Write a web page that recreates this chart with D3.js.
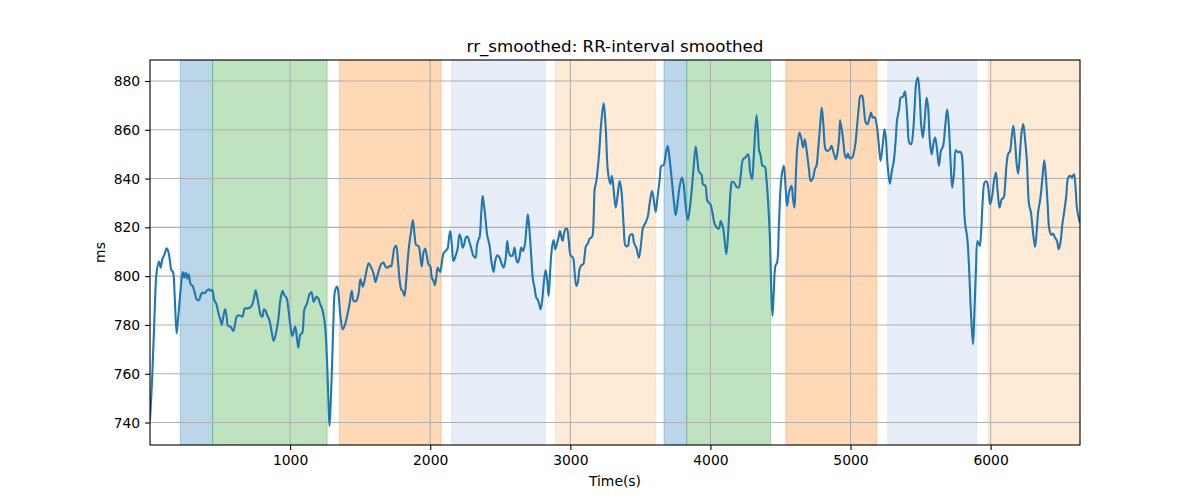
<!DOCTYPE html>
<html>
<head>
<meta charset="utf-8">
<script src="https://cdn.jsdelivr.net/npm/d3@7"></script>
<style>
  html, body { margin: 0; padding: 0; background: #fff; }
  svg { display: block; font-family: "DejaVu Sans", sans-serif; }
</style>
</head>
<body>
<svg id="chart" width="1200" height="500"></svg>
<script>
// ---- data ----
const times = [0,16,33,47,64,76,88,104,119,131,143,152,164,176,190,202,219,233,245,255,266,276,290,304,319,333,350,362,374,390,404,421,433,445,457,474,488,500,512,524,536,547,557,576,595,607,619,636,659,676,695,714,731,743,754,766,779,790,802,814,826,836,852,869,883,900,916,931,947,959,974,988,1002,1016,1036,1050,1059,1074,1086,1102,1121,1138,1152,1169,1186,1202,1214,1226,1240,1252,1264,1274,1281,1290,1300,1309,1321,1336,1347,1359,1376,1393,1407,1424,1440,1454,1471,1488,1502,1519,1531,1545,1561,1579,1597,1609,1626,1650,1666,1681,1697,1709,1721,1733,1745,1757,1769,1781,1793,1804,1816,1829,1840,1852,1864,1876,1888,1900,1916,1929,1940,1952,1964,1976,1988,2000,2011,2024,2033,2043,2054,2071,2083,2095,2109,2124,2133,2143,2154,2166,2181,2195,2209,2221,2231,2243,2254,2266,2281,2295,2309,2324,2333,2345,2352,2364,2374,2383,2395,2407,2424,2438,2452,2464,2479,2495,2511,2524,2538,2550,2561,2574,2588,2602,2614,2626,2638,2650,2661,2674,2686,2697,2709,2721,2733,2745,2757,2769,2781,2788,2800,2811,2824,2836,2845,2857,2869,2881,2893,2904,2916,2926,2936,2945,2954,2964,2976,2988,3002,3019,3031,3043,3054,3066,3079,3093,3102,3112,3126,3138,3150,3159,3167,3174,3186,3204,3221,3238,3252,3269,3286,3297,3309,3324,3340,3352,3364,3381,3395,3411,3424,3443,3454,3471,3490,3507,3519,3538,3554,3567,3583,3597,3609,3621,3638,3650,3666,3679,3695,3709,3726,3740,3752,3766,3781,3797,3809,3821,3838,3852,3867,3881,3895,3907,3919,3936,3947,3964,3979,4000,4014,4031,4047,4061,4074,4090,4102,4114,4131,4145,4154,4169,4186,4202,4216,4233,4250,4269,4283,4297,4311,4329,4340,4347,4359,4372,4388,4400,4412,4424,4436,4443,4452,4464,4476,4488,4500,4512,4524,4536,4547,4561,4579,4590,4600,4609,4621,4636,4650,4662,4674,4686,4702,4716,4733,4745,4757,4769,4783,4795,4807,4822,4836,4852,4864,4879,4895,4907,4919,4926,4947,4959,4971,4981,4995,5012,5024,5036,5047,5059,5071,5083,5095,5109,5122,5133,5147,5157,5172,5186,5200,5214,5229,5243,5252,5264,5281,5295,5309,5322,5333,5347,5359,5374,5388,5395,5407,5419,5433,5447,5459,5469,5481,5493,5504,5516,5529,5543,5554,5566,5579,5593,5604,5616,5631,5645,5661,5676,5690,5702,5714,5726,5740,5752,5769,5781,5793,5804,5816,5833,5845,5859,5874,5883,5895,5907,5922,5931,5945,5957,5971,5983,5997,6011,6026,6038,6050,6064,6079,6093,6102,6114,6126,6138,6150,6162,6174,6186,6197,6209,6221,6233,6247,6259,6274,6288,6300,6317,6329,6340,6354,6369,6383,6395,6407,6419,6433,6445,6459,6474,6486,6500,6512,6526,6540,6554,6569,6581,6595,6607,6616,6631,6638];
const rrValues = [741.0,759.0,785.0,801.5,806.0,803.5,807.0,809.0,811.4,810.0,806.0,802.5,801.7,792.0,776.6,783.7,794.6,801.7,799.4,801.5,799.0,800.8,796.7,796.0,793.3,790.5,790.2,792.2,793.3,793.0,794.0,794.6,794.0,794.3,790.5,788.5,785.0,782.6,780.0,783.7,786.4,783.4,779.6,779.2,777.5,780.3,783.4,784.0,783.4,786.7,786.8,787.1,788.5,791.2,794.2,791.2,787.1,784.0,783.4,786.4,785.7,784.0,782.0,776.9,773.4,776.9,782.3,790.5,794.0,792.2,791.2,786.4,779.6,775.5,779.3,774.0,770.7,776.2,776.6,786.4,788.9,792.6,793.5,789.4,791.5,790.8,788.5,787.1,783.7,778.2,764.6,748.2,738.6,748.2,764.6,781.0,794.0,795.7,791.9,783.7,778.2,780.3,783.7,788.5,794.0,789.8,789.8,792.6,798.7,795.7,798.0,802.1,805.3,803.5,800.8,797.6,800.8,804.9,805.6,803.9,803.5,804.2,804.0,807.6,811.7,812.4,806.9,798.7,794.6,793.9,791.9,798.7,806.9,813.8,818.5,823.0,817.2,812.7,812.4,808.3,804.0,809.7,811.3,808.3,804.9,804.2,799.4,798.0,796.3,799.4,803.5,801.7,805.6,809.4,810.3,811.3,815.1,818.5,813.1,806.2,808.3,811.0,817.2,815.1,811.7,813.1,815.8,816.2,813.8,811.0,808.3,807.6,812.4,815.1,815.8,825.4,832.9,829.5,823.3,816.8,812.4,805.6,801.7,806.2,808.6,807.6,804.9,803.5,806.9,814.4,809.7,808.3,808.6,811.7,806.9,805.6,808.0,811.7,810.3,812.4,819.2,825.4,818.5,808.3,798.7,795.3,791.2,790.2,787.8,786.4,790.5,797.4,802.5,798.0,791.9,802.9,811.7,814.8,811.0,813.1,815.8,818.5,816.2,814.4,817.2,819.2,819.5,815.1,808.6,807.6,801.5,796.0,797.4,802.9,804.5,804.9,808.3,812.4,813.5,815.4,815.8,816.8,824.7,835.6,839.0,849.2,863.0,870.9,861.6,842.5,837.7,841.1,835.6,828.1,834.3,839.0,835.6,820.6,812.4,812.4,816.5,817.2,813.8,811.7,807.6,814.4,819.9,822.0,824.7,830.2,834.9,830.8,826.3,831.5,839.7,845.2,845.5,849.3,853.4,847.9,838.4,830.2,825.0,830.2,837.0,840.4,837.7,830.2,823.0,827.4,835.6,845.2,853.1,847.9,842.7,841.8,837.7,837.0,830.8,829.5,826.1,821.3,819.9,819.5,822.6,819.9,814.4,809.0,822.0,835.6,838.6,838.4,836.7,836.3,841.1,847.9,848.6,850.0,843.1,839.7,850.7,866.0,858.9,851.7,849.3,845.2,844.9,839.7,830.2,816.5,791.9,783.7,793.3,804.2,805.6,819.2,835.6,842.5,845.2,837.0,828.8,834.3,837.0,831.5,828.1,839.7,853.4,858.9,856.1,852.7,856.1,852.0,844.5,839.0,840.4,843.8,845.2,852.0,861.6,869.1,861.6,852.0,851.3,852.0,853.4,850.7,847.9,850.7,856.8,863.9,856.1,849.9,848.3,850.3,848.3,848.6,850.7,854.8,861.6,869.1,873.9,873.9,869.1,863.0,862.3,864.3,867.1,865.0,865.2,862.3,855.4,847.2,853.4,860.2,856.8,845.9,837.9,843.1,847.2,855.4,864.3,868.4,873.2,873.4,875.7,873.2,863.6,854.8,854.1,859.5,870.4,879.3,881.4,874.5,862.3,856.8,863.6,873.2,869.1,855.4,849.9,854.8,856.8,852.7,845.2,851.3,853.4,861.6,868.4,861.6,847.2,836.3,843.1,851.6,850.7,851.1,850.0,840.4,822.6,815.8,804.9,785.7,772.1,783.0,802.1,814.4,812.4,817.2,832.2,838.4,838.8,836.3,829.5,832.9,839.7,842.5,835.0,828.1,831.5,832.2,836.3,845.9,850.2,851.1,856.8,861.6,855.4,845.9,842.0,850.0,858.9,862.3,855.4,847.2,829.5,826.1,819.2,812.0,818.5,826.7,831.5,839.7,847.5,840.4,829.5,819.2,816.9,817.5,815.8,814.4,811.0,814.4,821.3,826.7,832.9,840.4,841.1,840.4,841.8,835.6,828.1,823.3,821.9];

// shaded intervals (seconds) and their phase category
const spanStart = [216, 447, 1352, 2154, 2895, 3669, 3831, 4538, 5266, 5981];
const spanEnd   = [447, 1264, 2078, 2821, 3609, 3831, 4429, 5188, 5900, 6638];
const spanPhase = ["A", "B", "C", "D", "E", "A", "B", "C", "D", "E"];

const xTicks = [1000, 2000, 3000, 4000, 5000, 6000];
const yTicks = [740, 760, 780, 800, 820, 840, 860, 880];

const titleText = "rr_smoothed: RR-interval smoothed";
const xLabel = "Time(s)";
const yLabel = "ms";

// ---- layout ----
const W = 1200, H = 500;
const m = { left: 150, right: 1080, top: 60, bottom: 445 };

const svg = d3.select("#chart");

const x = d3.scaleLinear().domain([0, 6638]).range([m.left, m.right]);
const y = d3.scaleLinear().domain([730.8, 888.6]).range([m.bottom, m.top]);

const phaseColor = d3.scaleOrdinal()
  .domain(["A", "B", "C", "D", "E"])
  .range(["#1f77b4", "#2ca02c", "#ff7f0e", "#aec7e8", "#ffbb78"]);

svg.append("defs").append("clipPath").attr("id", "clip")
  .append("rect").attr("x", m.left).attr("y", m.top)
  .attr("width", m.right - m.left).attr("height", m.bottom - m.top);

// spans
const spans = spanStart.map((s, i) => ({ s, e: spanEnd[i], p: spanPhase[i] }));
svg.append("g").attr("clip-path", "url(#clip)")
  .selectAll("rect").data(spans).join("rect")
  .attr("x", d => x(d.s))
  .attr("y", m.top)
  .attr("width", d => x(d.e) - x(d.s))
  .attr("height", m.bottom - m.top)
  .attr("fill", d => phaseColor(d.p))
  .attr("fill-opacity", 0.3)
  .attr("stroke", d => phaseColor(d.p))
  .attr("stroke-opacity", 0.3)
  .attr("stroke-width", 1);

// grid
const grid = svg.append("g");
grid.selectAll("line.gx").data(xTicks).join("line")
  .attr("x1", d => x(d)).attr("x2", d => x(d))
  .attr("y1", m.top).attr("y2", m.bottom)
  .attr("stroke", "#b0b0b0").attr("stroke-width", 1.1);
grid.selectAll("line.gy").data(yTicks).join("line")
  .attr("x1", m.left).attr("x2", m.right)
  .attr("y1", d => y(d)).attr("y2", d => y(d))
  .attr("stroke", "#b0b0b0").attr("stroke-width", 1.1);

// line
const pts = times.map((t, i) => [t, rrValues[i]]);
svg.append("path")
  .datum(pts)
  .attr("clip-path", "url(#clip)")
  .attr("fill", "none")
  .attr("stroke", "#1f77b4")
  .attr("stroke-width", 2.1)
  .attr("stroke-linejoin", "round")
  .attr("stroke-linecap", "butt")
  .attr("d", d3.line().x(d => x(d[0])).y(d => y(d[1])).curve(d3.curveCatmullRom.alpha(0.5)));

// axes
const xAxis = d3.axisBottom(x).tickValues(xTicks).tickSize(4.9).tickPadding(4.9).tickFormat(d3.format("d"));
const yAxis = d3.axisLeft(y).tickValues(yTicks).tickSize(4.9).tickPadding(4.9).tickFormat(d3.format("d"));

const gx = svg.append("g").attr("transform", `translate(0,${m.bottom})`).call(xAxis);
const gy = svg.append("g").attr("transform", `translate(${m.left},0)`).call(yAxis);
[gx, gy].forEach(g => {
  g.select(".domain").remove();
  g.selectAll(".tick line").attr("stroke", "#000").attr("stroke-width", 1.1);
  g.selectAll(".tick text").attr("fill", "#000").attr("font-size", "13.9px")
    .attr("font-family", "DejaVu Sans, sans-serif");
});

// frame
svg.append("rect")
  .attr("x", m.left).attr("y", m.top)
  .attr("width", m.right - m.left).attr("height", m.bottom - m.top)
  .attr("fill", "none").attr("stroke", "#000").attr("stroke-width", 1.1);

// labels
svg.append("text")
  .attr("x", (m.left + m.right) / 2).attr("y", 52)
  .attr("text-anchor", "middle")
  .attr("font-size", "16.7px")
  .attr("fill", "#000")
  .text(titleText);

svg.append("text")
  .attr("x", (m.left + m.right) / 2).attr("y", 486)
  .attr("text-anchor", "middle")
  .attr("font-size", "13.9px")
  .attr("fill", "#000")
  .text(xLabel);

svg.append("text")
  .attr("transform", `translate(105,${(m.top + m.bottom) / 2}) rotate(-90)`)
  .attr("text-anchor", "middle")
  .attr("font-size", "13.9px")
  .attr("fill", "#000")
  .text(yLabel);
</script>
</body>
</html>
